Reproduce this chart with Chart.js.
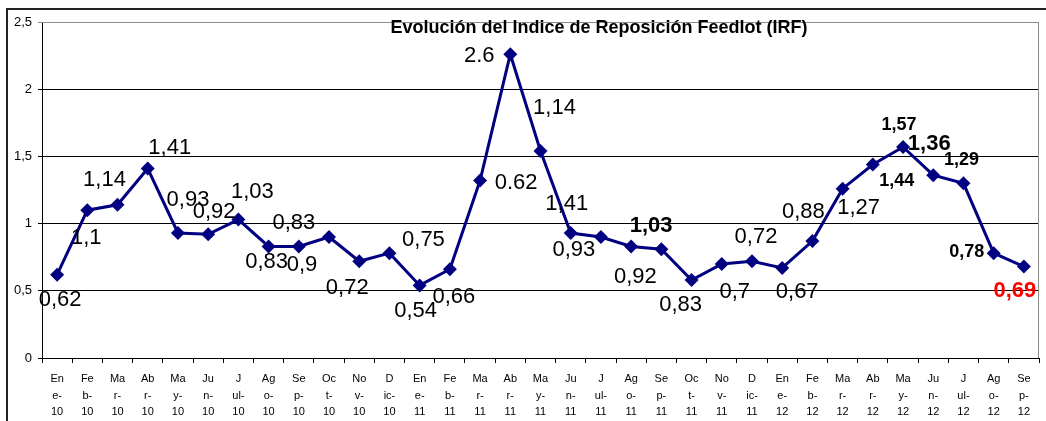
<!DOCTYPE html>
<html lang="es">
<head>
    <meta charset="UTF-8">
    <script src="https://cdn.jsdelivr.net/npm/chart.js@4.4.1/dist/chart.umd.min.js"></script>
    <title>Indice de Reposición Feedlot</title>
    <style>
        body { margin: 0; background: #fff; }
        #wrap { width: 1046px; height: 421px; }
    </style>
</head>
<body>
    <div id="wrap"><canvas id="irf" width="1046" height="421"></canvas></div>
    <script>
        const meses = [
            ['En','e-','10'],['Fe','b-','10'],['Ma','r-','10'],['Ab','r-','10'],['Ma','y-','10'],['Ju','n-','10'],
            ['J','ul-','10'],['Ag','o-','10'],['Se','p-','10'],['Oc','t-','10'],['No','v-','10'],['D','ic-','10'],
            ['En','e-','11'],['Fe','b-','11'],['Ma','r-','11'],['Ab','r-','11'],['Ma','y-','11'],['Ju','n-','11'],
            ['J','ul-','11'],['Ag','o-','11'],['Se','p-','11'],['Oc','t-','11'],['No','v-','11'],['D','ic-','11'],
            ['En','e-','12'],['Fe','b-','12'],['Ma','r-','12'],['Ab','r-','12'],['Ma','y-','12'],['Ju','n-','12'],
            ['J','ul-','12'],['Ag','o-','12'],['Se','p-','12']
        ];
        const irf = [0.62, 1.10, 1.14, 1.41, 0.93, 0.92, 1.03, 0.83, 0.83, 0.90, 0.72, 0.78,
                     0.54, 0.66, 1.32, 2.26, 1.54, 0.93, 0.90, 0.83, 0.81, 0.58, 0.70, 0.72,
                     0.67, 0.87, 1.26, 1.44, 1.57, 1.36, 1.30, 0.78, 0.68];
        // etiquetas tal como aparecen en el grafico original
        const etiquetas = ['0,62','1,1','1,14','1,41','0,93','0,92','1,03','0,83','0,83','0,9','0,72','0,75',
                           '0,54','0,66','0.62','2.6','1,14','1,41','0,93','1,03','0,92','0,83','0,7','0,72',
                           '0,67','0,88','1,27','1,44','1,57','1,36','1,29','0,78','0,69'];
        const yTicks = [0, 0.5, 1, 1.5, 2, 2.5];

        // desplazamiento de cada etiqueta respecto a su punto (px)
        const labelOffsets = [[3,25],[-1,28],[-13,-25],[22,-21],[10,-33],[6,-22],[14,-28],[-2,15],[-5,-24],[-27,28],
                              [-12,27],[34,-13],[-4,26],[4,28],[36,2],[-31,2],[14,-43],[-4,-29],[-27,13],[20,-21],
                              [-26,28],[-11,25],[13,28],[4,-24],[15,24],[-9,-29],[16,19],[24,17],[-4,-22],[-4,-31],
                              [-2,-23],[-27,-1],[-9,24]];
        const labelStyle = i => {
            if (i === 32) return { font: 'bold 22px Arial, "Liberation Sans"', color: '#ff0000' };
            if (i === 19 || i === 29) return { font: 'bold 22px Arial, "Liberation Sans"', color: '#000' };
            if (i >= 27) return { font: 'bold 18px Arial, "Liberation Sans"', color: '#000' };
            return { font: '22px Arial, "Liberation Sans"', color: '#000' };
        };

        const decor = {
            id: 'decor',
            beforeDraw(chart) {
                const ctx = chart.ctx;
                ctx.save();
                ctx.strokeStyle = '#222';
                ctx.lineWidth = 2;
                ctx.beginPath();
                ctx.moveTo(7, 421);
                ctx.lineTo(7, 9);
                ctx.lineTo(1046, 9);
                ctx.stroke();
                ctx.restore();
            },
            afterDatasetsDraw(chart) {
                const ctx = chart.ctx;
                const a = chart.chartArea;
                ctx.save();
                ctx.strokeStyle = '#8c8c8c';
                ctx.lineWidth = 1;
                ctx.beginPath();
                ctx.moveTo(a.left, a.top + 0.5);
                ctx.lineTo(a.right - 0.5, a.top + 0.5);
                ctx.lineTo(a.right - 0.5, a.bottom);
                ctx.stroke();

                const pts = chart.getDatasetMeta(0).data;
                ctx.textAlign = 'center';
                ctx.textBaseline = 'middle';
                etiquetas.forEach((t, i) => {
                    const s = labelStyle(i);
                    ctx.font = s.font;
                    ctx.fillStyle = s.color;
                    ctx.fillText(t, pts[i].x + labelOffsets[i][0], pts[i].y + labelOffsets[i][1]);
                });

                ctx.font = 'bold 18px Arial, "Liberation Sans"';
                ctx.fillStyle = '#000';
                ctx.fillText('Evolución del Indice de Reposición Feedlot (IRF)', 599, 28);
                ctx.restore();
            }
        };

        new Chart(document.getElementById('irf'), {
            type: 'line',
            data: {
                labels: meses,
                datasets: [{
                    data: irf,
                    borderColor: '#000080',
                    backgroundColor: '#000080',
                    borderWidth: 3,
                    pointStyle: 'rectRot',
                    pointRadius: 7,
                    pointBorderWidth: 0,
                    tension: 0,
                    fill: false
                }]
            },
            options: {
                responsive: false,
                animation: false,
                layout: { padding: { top: 22, right: 4, left: 0, bottom: 0 } },
                plugins: { legend: { display: false }, tooltip: { enabled: false } },
                scales: {
                    x: {
                        offset: true,
                        grid: { drawOnChartArea: false, offset: true, tickLength: 5, color: '#000' },
                        border: { color: '#000' },
                        ticks: {
                            autoSkip: false, maxRotation: 0, padding: 8,
                            color: '#000',
                            font: { family: 'Arial, "Liberation Sans"', size: 11, lineHeight: 1.5 }
                        },
                        afterFit: s => { s.height = 63; }
                    },
                    y: {
                        min: 0, max: 2.5,
                        afterBuildTicks: s => { s.ticks = yTicks.map(v => ({ value: v })); },
                        grid: {
                            tickLength: 4,
                            color: c => (c.tick && c.tick.value === 2.5) ? '#8c8c8c' : '#000'
                        },
                        border: { color: '#000' },
                        ticks: {
                            padding: 6, color: '#000',
                            font: { family: 'Arial, "Liberation Sans"', size: 13 },
                            callback: v => String(v).replace('.', ',')
                        },
                        afterFit: s => { s.width = 42; }
                    }
                }
            },
            plugins: [decor]
        });
    </script>
</body>
</html>
